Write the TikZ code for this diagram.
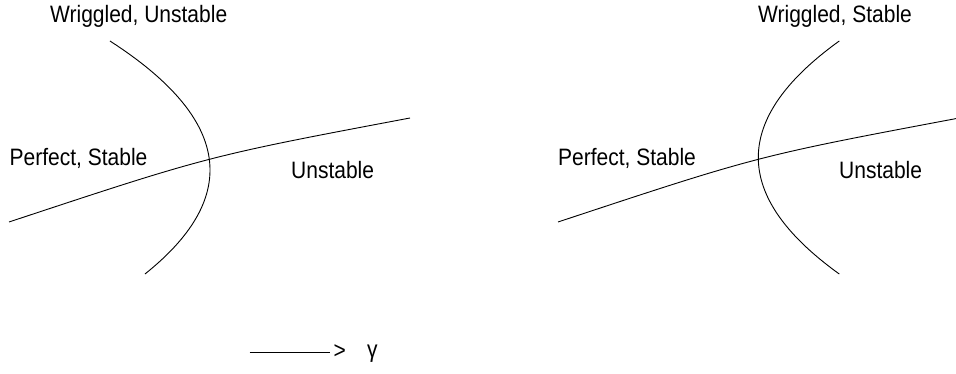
\documentclass[tikz,border=0pt]{standalone}
\usepackage{fontspec}
\setmainfont{Liberation Sans}
\newcommand{\tallt}[1]{\scalebox{1}[1.13]{#1}}
\begin{document}
\begin{tikzpicture}[x=1pt,y=-1pt,
  curve/.style={draw=black,line width=0.9pt},
  lbl/.style={inner sep=0pt,anchor=base west,font=\fontsize{21}{25}\selectfont}]
\useasboundingbox (0,0) rectangle (956,374);
% left diagram
\draw[curve] (9,222) .. controls (208.5,156) .. (410,118);
\draw[curve] plot[domain=41:274,samples=80,smooth] ({210-0.00601*(\x-170)*(\x-170)},\x);
\node[lbl] (lw) at (50,23) {\tallt{Wriggled, Unstable}};
\node[lbl] (lp) at (9.5,166) {\tallt{Perfect, Stable}};
\node[lbl] (lu) at (291,179) {\tallt{Unstable}};
% right diagram
\draw[curve] (558,222) .. controls (757.5,156) .. (956,118.6);
\draw[curve] plot[domain=41:274,samples=80,smooth] ({758.3+0.00597*(\x-157.5)*(\x-157.5)},\x);
\node[lbl] (rw) at (758,23) {\tallt{Wriggled, Stable}};
\node[lbl] (rp) at (558,166) {\tallt{Perfect, Stable}};
\node[lbl] (ru) at (839,179) {\tallt{Unstable}};
% gamma arrow
\coordinate (gs) at (249.5,352.7);
\node[lbl] (gt) at (333.5,358) {\tallt{>}};
\node[lbl] (gg) at (367,357) {\tallt{γ}};
\draw[curve] (gs) -- (330,352.7);
\end{tikzpicture}
\end{document}
